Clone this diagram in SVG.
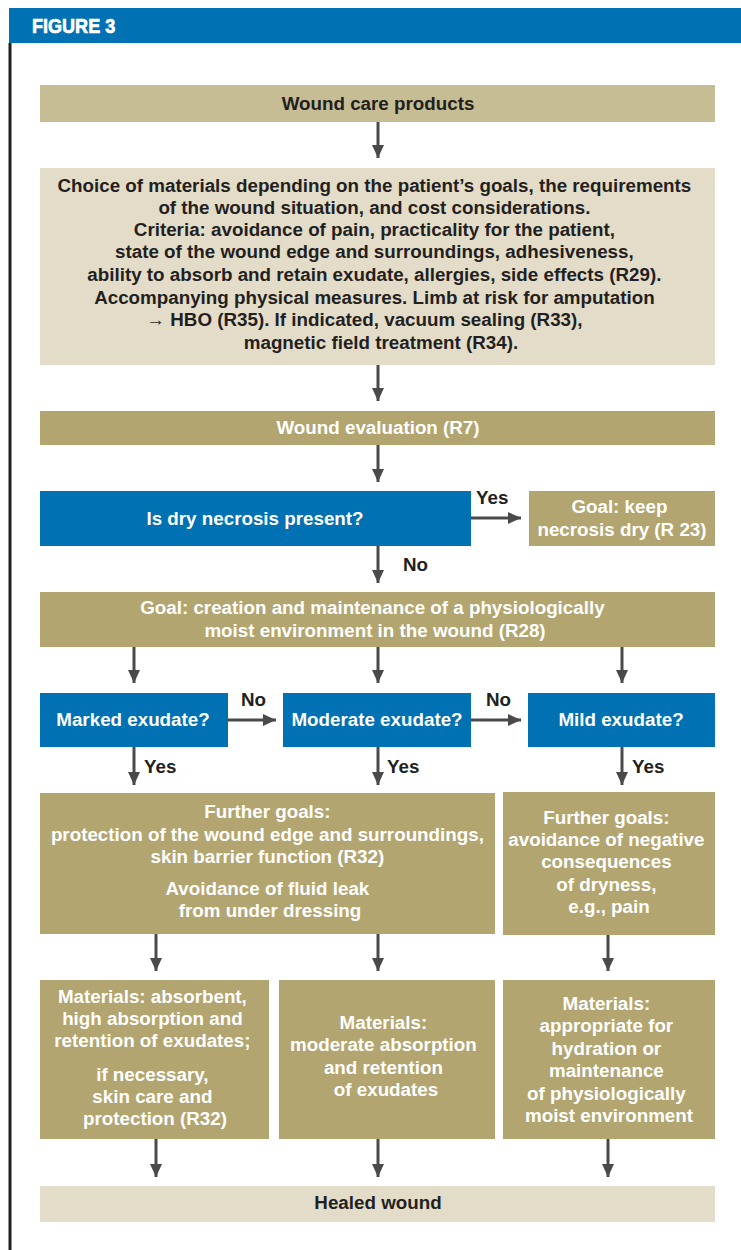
<svg xmlns="http://www.w3.org/2000/svg" width="741" height="1250" viewBox="0 0 741 1250">
  <style>
    text { font-family: "Liberation Sans Narrow", "Liberation Sans", Arial, sans-serif; font-weight: bold; font-size: 18.8px; text-anchor: middle; }
    .dark { fill: #231f20; }
    .light { fill: #ffffff; }
    .pale { fill: #e3dcc8; }
    .tan { fill: #c6bd95; }
    .olive { fill: #b2a570; }
    .blue { fill: #0071b3; }
    .lbl { text-anchor: start; fill: #231f20; }
    .conn line { stroke: #4a4a4a; stroke-width: 3; marker-end: url(#arrow); }
  </style>
  <defs>
    <marker id="arrow" markerUnits="userSpaceOnUse" markerWidth="14" markerHeight="14" viewBox="0 0 14 14" refX="13" refY="7" orient="auto">
      <path d="M0,1 L13,7 L0,13 Z" fill="#4a4a4a"/>
    </marker>
  </defs>

  <!-- title bar and frame -->
  <rect x="9" y="8" width="732" height="35" fill="#0071b3"/>
  <text transform="translate(32,33) scale(0.86,1)" x="0" y="0" class="light" style="text-anchor:start;font-size:21px;stroke:#ffffff;stroke-width:0.7">FIGURE 3</text>
  <line x1="10" y1="43" x2="10" y2="1250" stroke="#231f20" stroke-width="3"/>

  <g id="n-products">
    <rect x="40" y="85" width="675" height="37" class="tan"/>
    <text x="378" y="110" class="dark">Wound care products</text>
  </g>

  <g id="n-choice">
    <rect x="40" y="168" width="675" height="197" class="pale"/>
    <text class="dark">
      <tspan x="377" y="192">Choice of materials depending on the patient’s goals, the requirements</tspan>
      <tspan x="377" y="214">of the wound situation, and cost considerations.</tspan>
      <tspan x="377" y="236">Criteria: avoidance of pain, practicality for the patient,</tspan>
      <tspan x="377" y="258">state of the wound edge and surroundings, adhesiveness,</tspan>
      <tspan x="377" y="281">ability to absorb and retain exudate, allergies, side effects (R29).</tspan>
      <tspan x="377" y="304">Accompanying physical measures. Limb at risk for amputation</tspan>
      <tspan x="367" y="326">→ HBO (R35). If indicated, vacuum sealing (R33),</tspan>
      <tspan x="381" y="349">magnetic field treatment (R34).</tspan>
    </text>
  </g>

  <g id="n-evaluation">
    <rect x="40" y="411" width="675" height="34" class="olive"/>
    <text x="378" y="434" class="light">Wound evaluation (R7)</text>
  </g>

  <g id="n-necrosis">
    <rect x="40" y="491" width="431" height="55" class="blue"/>
    <text x="255" y="525" class="light">Is dry necrosis present?</text>
  </g>

  <g id="n-keepdry">
    <rect x="529" y="491" width="186" height="55" class="olive"/>
    <text class="light">
      <tspan x="622" y="513">Goal: keep</tspan>
      <tspan x="622" y="536">necrosis dry (R 23)</tspan>
    </text>
  </g>

  <g id="n-moist">
    <rect x="40" y="592" width="675" height="55" class="olive"/>
    <text class="light">
      <tspan x="375" y="614">Goal: creation and maintenance of a physiologically</tspan>
      <tspan x="375" y="637">moist environment in the wound (R28)</tspan>
    </text>
  </g>

  <g id="n-marked">
    <rect x="40" y="693" width="188" height="54" class="blue"/>
    <text x="133" y="726" class="light">Marked exudate?</text>
  </g>

  <g id="n-moderate">
    <rect x="283" y="693" width="188" height="54" class="blue"/>
    <text x="377" y="726" class="light">Moderate exudate?</text>
  </g>

  <g id="n-mild">
    <rect x="528" y="693" width="187" height="54" class="blue"/>
    <text x="621" y="726" class="light">Mild exudate?</text>
  </g>

  <g id="n-goals-wet">
    <rect x="40" y="793" width="455" height="141" class="olive"/>
    <text class="light">
      <tspan x="270" y="818">Further goals:</tspan>
      <tspan x="270" y="841">protection of the wound edge and surroundings,</tspan>
      <tspan x="270" y="863">skin barrier function (R32)</tspan>
      <tspan x="270" y="895">Avoidance of fluid leak</tspan>
      <tspan x="270" y="917">from under dressing</tspan>
    </text>
  </g>

  <g id="n-goals-dry">
    <rect x="503" y="792" width="212" height="143" class="olive"/>
    <text class="light">
      <tspan x="609" y="824">Further goals:</tspan>
      <tspan x="609" y="846">avoidance of negative</tspan>
      <tspan x="609" y="868">consequences</tspan>
      <tspan x="609" y="891">of dryness,</tspan>
      <tspan x="609" y="913">e.g., pain</tspan>
    </text>
  </g>

  <g id="n-mat-high">
    <rect x="40" y="980" width="229" height="159" class="olive"/>
    <text class="light">
      <tspan x="155" y="1003">Materials: absorbent,</tspan>
      <tspan x="155" y="1025">high absorption and</tspan>
      <tspan x="155" y="1047">retention of exudates;</tspan>
      <tspan x="155" y="1081">if necessary,</tspan>
      <tspan x="155" y="1103">skin care and</tspan>
      <tspan x="155" y="1125">protection (R32)</tspan>
    </text>
  </g>

  <g id="n-mat-moderate">
    <rect x="279" y="980" width="216" height="159" class="olive"/>
    <text class="light">
      <tspan x="386" y="1029">Materials:</tspan>
      <tspan x="386" y="1051">moderate absorption</tspan>
      <tspan x="386" y="1074">and retention</tspan>
      <tspan x="386" y="1096">of exudates</tspan>
    </text>
  </g>

  <g id="n-mat-hydration">
    <rect x="503" y="980" width="212" height="159" class="olive"/>
    <text class="light">
      <tspan x="609" y="1010">Materials:</tspan>
      <tspan x="609" y="1032">appropriate for</tspan>
      <tspan x="609" y="1055">hydration or</tspan>
      <tspan x="609" y="1077">maintenance</tspan>
      <tspan x="609" y="1100">of physiologically</tspan>
      <tspan x="609" y="1122">moist environment</tspan>
    </text>
  </g>

  <g id="n-healed">
    <rect x="40" y="1186" width="675" height="36" class="pale"/>
    <text x="378" y="1209" class="dark">Healed wound</text>
  </g>

  <g id="connectors" class="conn">
    <line x1="378" y1="122" x2="378" y2="158"/>
    <line x1="378" y1="365" x2="378" y2="401"/>
    <line x1="378" y1="445" x2="378" y2="482"/>
    <line x1="471" y1="518" x2="521" y2="518"/>
    <line x1="378" y1="546" x2="378" y2="583"/>
    <line x1="134" y1="647" x2="134" y2="683"/>
    <line x1="378" y1="647" x2="378" y2="683"/>
    <line x1="622" y1="647" x2="622" y2="683"/>
    <line x1="228" y1="720" x2="276" y2="720"/>
    <line x1="471" y1="720" x2="521" y2="720"/>
    <line x1="134" y1="747" x2="134" y2="785"/>
    <line x1="378" y1="747" x2="378" y2="785"/>
    <line x1="622" y1="747" x2="622" y2="785"/>
    <line x1="156" y1="934" x2="156" y2="971"/>
    <line x1="378" y1="934" x2="378" y2="971"/>
    <line x1="608" y1="935" x2="608" y2="971"/>
    <line x1="156" y1="1139" x2="156" y2="1177"/>
    <line x1="378" y1="1139" x2="378" y2="1177"/>
    <line x1="608" y1="1139" x2="608" y2="1177"/>
  </g>

  <g id="edge-labels">
    <text x="476" y="504" class="lbl">Yes</text>
    <text x="403" y="571" class="lbl">No</text>
    <text x="241" y="706" class="lbl">No</text>
    <text x="486" y="706" class="lbl">No</text>
    <text x="144" y="773" class="lbl">Yes</text>
    <text x="387" y="773" class="lbl">Yes</text>
    <text x="632" y="773" class="lbl">Yes</text>
  </g>
</svg>
